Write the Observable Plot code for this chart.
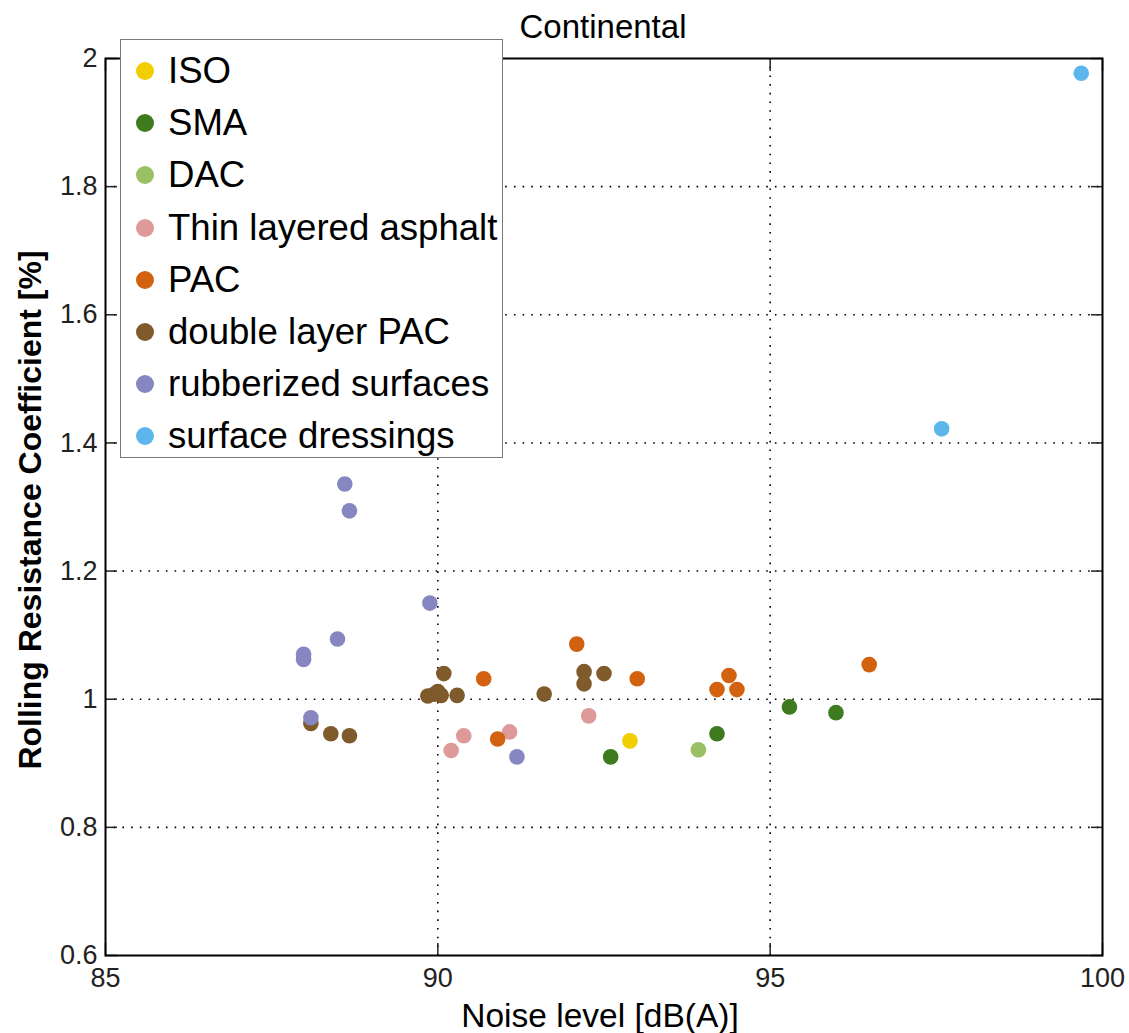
<!DOCTYPE html>
<html>
<head>
<meta charset="utf-8">
<script src="https://cdn.jsdelivr.net/npm/d3@7"></script>
<script src="https://cdn.jsdelivr.net/npm/@observablehq/plot@0.6"></script>
<style>
  body { margin: 0; background: #fff; font-family: "Liberation Sans", Arial, sans-serif; }
  #wrap { position: relative; width: 1129px; height: 1033px; overflow: hidden; }
  #legend { position: absolute; left: 120px; top: 39px; width: 383px; height: 419px;
            background: #fff; border: 1.5px solid #7a7a7a; box-sizing: border-box; }
  .item { position: absolute; left: 0; height: 40px; display: flex; align-items: center;
          font-size: 36.6px; color: #000; white-space: nowrap; }
  .dot { width: 18px; height: 18px; border-radius: 50%; margin-left: 15px; margin-right: 14px; }
</style>
</head>
<body>
<div id="wrap"></div>
<script>
// ---- data ----
const title = "Continental";
const xLabel = "Noise level [dB(A)]";
const yLabel = "Rolling Resistance Coefficient [%]";
const categories = ["ISO", "SMA", "DAC", "Thin layered asphalt", "PAC", "double layer PAC", "rubberized surfaces", "surface dressings"];
const colors = ["#F0CE00", "#3E7B1F", "#99C064", "#DE9999", "#D2620F", "#7F5B2C", "#8686C0", "#5CB6EC"];
const xTicks = [85, 90, 95, 100];
const yTicks = [0.6, 0.8, 1.0, 1.2, 1.4, 1.6, 1.8, 2.0];
const xGridTicks = [90, 95];
const yGridTicks = [0.8, 1.0, 1.2, 1.4, 1.6, 1.8];

const iso = [[92.89, 0.935]];
const sma = [[92.6, 0.910], [94.2, 0.946], [95.29, 0.988], [95.99, 0.979]];
const dac = [[93.92, 0.921]];
const thin = [[90.2, 0.920], [90.39, 0.943], [91.08, 0.949], [92.27, 0.974]];
const pac = [[92.09, 1.086], [90.69, 1.032], [93.0, 1.032], [90.9, 0.938], [94.38, 1.037], [94.2, 1.015], [94.5, 1.015], [96.49, 1.054]];
const doublePac = [[88.09, 0.962], [88.39, 0.946], [88.67, 0.943], [90.09, 1.040], [89.85, 1.005], [89.95, 1.008], [90.0, 1.012], [90.05, 1.006], [90.29, 1.006], [91.6, 1.008], [92.2, 1.043], [92.2, 1.024], [92.5, 1.040]];
const rubber = [[88.6, 1.336], [88.67, 1.294], [89.88, 1.150], [88.49, 1.094], [87.98, 1.070], [87.98, 1.062], [88.09, 0.971], [91.19, 0.910]];
const dressing = [[99.68, 1.977], [97.58, 1.422]];

const seriesPoints = [iso, sma, dac, thin, pac, doublePac, rubber, dressing];
const table = seriesPoints.flatMap((pts, i) => pts.map(([x, y]) => ({x, y, series: categories[i]})));

// ---- plot ----
const font = "'Liberation Sans', Arial, Helvetica, sans-serif";
const trim = d => String(+d.toFixed(1));
const plot = Plot.plot({
  width: 1129,
  height: 1033,
  marginLeft: 105,
  marginRight: 27,
  marginTop: 58,
  marginBottom: 78,
  style: {fontFamily: font, background: "white", overflow: "visible"},
  x: {domain: [85, 100]},
  y: {domain: [0.6, 2.0]},
  color: {domain: categories, range: colors},
  marks: [
    Plot.gridX(xGridTicks, {stroke: "black", strokeOpacity: 1, strokeWidth: 1.6, strokeDasharray: "1.6,7.1"}),
    Plot.gridY(yGridTicks, {stroke: "black", strokeOpacity: 1, strokeWidth: 1.6, strokeDasharray: "1.6,7.1"}),
    Plot.axisX({anchor: "bottom", ticks: xTicks, tickSize: -12, tickPadding: 24, fontSize: 27, label: null, color: "#222", strokeWidth: 1.5}),
    Plot.axisX({anchor: "top", ticks: xTicks, tickSize: -12, tickFormat: () => "", label: null, color: "#222", strokeWidth: 1.5}),
    Plot.axisY({anchor: "left", ticks: yTicks, tickSize: -12, tickPadding: 20, tickFormat: trim, fontSize: 27, label: null, color: "#222", strokeWidth: 1.5}),
    Plot.axisY({anchor: "right", ticks: yTicks, tickSize: -12, tickFormat: () => "", label: null, color: "#222", strokeWidth: 1.5}),
    Plot.dot(table, {x: "x", y: "y", fill: "series", r: 7.8, stroke: "none"}),
    Plot.frame({stroke: "black", strokeWidth: 2})
  ]
});

const svg = d3.select(plot);
svg.append("text")
  .attr("x", 603).attr("y", 38)
  .attr("text-anchor", "middle")
  .attr("font-size", 33).attr("font-family", font).attr("fill", "#000")
  .text(title);
svg.append("text")
  .attr("x", 600).attr("y", 1027)
  .attr("text-anchor", "middle")
  .attr("font-size", 33.5).attr("font-family", font).attr("fill", "#000")
  .text(xLabel);
svg.append("text")
  .attr("transform", "translate(41,510) rotate(-90)")
  .attr("text-anchor", "middle")
  .attr("font-size", 32).attr("font-weight", "bold").attr("font-family", font).attr("fill", "#000")
  .text(yLabel);

const wrap = document.getElementById("wrap");
wrap.appendChild(plot);

// ---- legend ----
const legend = document.createElement("div");
legend.id = "legend";
categories.forEach((c, i) => {
  const item = document.createElement("div");
  item.className = "item";
  item.style.top = (11 + i * 52.2) + "px";
  const dot = document.createElement("span");
  dot.className = "dot";
  dot.style.background = colors[i];
  const label = document.createElement("span");
  label.textContent = c;
  item.appendChild(dot);
  item.appendChild(label);
  legend.appendChild(item);
});
wrap.appendChild(legend);
</script>
</body>
</html>
